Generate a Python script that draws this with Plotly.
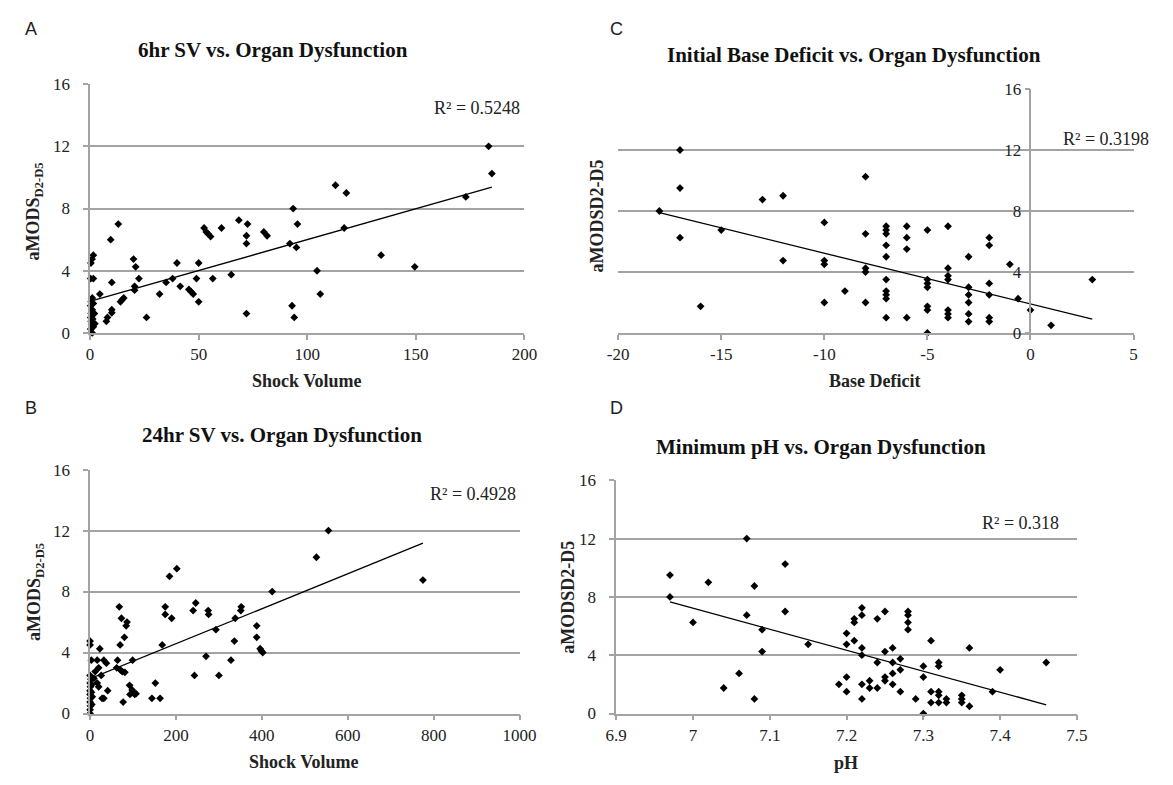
import numpy as np
import plotly.graph_objects as go

W, H = 1173, 785

# ---------------- Panel A: 6hr shock volume ----------------
sv6_x = [183.5, 185, 173, 113, 118, 93.5, 95.5, 95, 92, 117, 134, 149.5, 104.5, 106, 93, 94, 72,
         68.5, 72.5, 72, 72, 80, 81.5, 60.5, 52.5, 53.5, 54.5, 55.5, 65, 56.5, 50, 49, 50,
         45.5, 46.5, 47.5, 40, 41.5, 38, 35, 32, 26, 20, 21, 22.5, 20.5, 20.5, 13, 9.5, 10,
         4.5, 14, 14.8, 15.5, 10, 10, 8, 7.5,
         1.5, 0.9, 0.4, 1.5, 0.3, 1.0, 0.5, 1.5, 0.3, 1.0, 0.5, 2.0, 0.3, 1.2, 0.5, 2.2, 0.8,
         1.5, 0.3, 1.0]
sv6_y = [12, 10.25, 8.75, 9.5, 9.0, 8.0, 7.0, 5.5, 5.75, 6.75, 5.0, 4.25, 4.0, 2.5, 1.75, 1.0, 1.25,
         7.25, 7.0, 6.25, 5.75, 6.5, 6.25, 6.75, 6.75, 6.5, 6.35, 6.2, 3.75, 3.5, 4.5, 3.5, 2.0,
         2.8, 2.65, 2.5, 4.5, 3.0, 3.5, 3.25, 2.5, 1.0, 4.75, 4.25, 3.5, 3.0, 2.75, 7.0, 6.0, 3.25,
         2.5, 2.0, 2.15, 2.25, 1.5, 1.3, 1.0, 0.75,
         5.0, 4.75, 4.5, 3.5, 3.5, 2.25, 2.0, 1.9, 1.75, 1.5, 1.25, 1.25, 1.0, 0.9, 0.75, 0.6, 0.5,
         0.4, 0.25, 0.0]

# ---------------- Panel B: 24hr shock volume ----------------
sv24_x = [555, 527, 775, 424, 202, 185, 246, 240, 275, 276, 352, 351, 338, 293, 388, 388, 396, 399,
          402, 336, 328, 300, 270, 243, 175, 175, 190, 168, 152, 144, 163, 68, 73, 86, 84, 80, 70,
          64, 99, 62, 71, 81, 75, 77, 92, 98, 107, 104, 93, 41, 28, 32, 22.7, 3, 16.6, 32, 38,
          20, 16.6, 20, 9, 0, 0, 26, 12,
          0, 2, 0, 4, 1, 0, 3, 0, 5, 1, 0, 4, 1, 0, 0]
sv24_y = [12, 10.25, 8.75, 8.0, 9.5, 9.0, 7.25, 6.75, 6.75, 6.5, 7.0, 6.75, 6.25, 5.5, 5.75, 5.0, 4.25, 4.1,
          4.0, 4.75, 3.5, 2.5, 3.75, 2.5, 7.0, 6.5, 6.25, 4.5, 2.0, 1.0, 1.0, 7.0, 6.25, 6.0, 5.75, 5.0, 4.5,
          3.5, 3.5, 3.0, 2.85, 2.7, 2.75, 0.75, 1.85, 1.55, 1.3, 1.25, 1.25, 1.5, 1.0, 1.0, 4.25, 3.5, 3.5, 3.5, 3.3,
          3.0, 2.0, 1.75, 2.3, 4.75, 4.5, 2.5, 2.75,
          2.5, 2.25, 2.0, 1.9, 1.75, 1.5, 1.4, 1.25, 1.1, 1.0, 0.75, 0.6, 0.5, 0.25, 0.0]

# ---------------- Panel C: initial base deficit ----------------
bd_x = [-17, -17, -17, -18, -16, -15, -13, -12, -12, -10, -10, -10, -10, -9, -8, -8, -8, -8, -8,
        -7, -7, -7, -7, -7, -7, -7, -7, -7, -7, -6, -6, -6, -6, -5, -5, -5, -5, -5, -5, -5,
        -4, -4, -4, -4, -4, -4, -4, -3, -3, -3, -3, -3, -3, -2, -2, -2, -2, -2, -2,
        -1, -0.6, 0, 1, 3]
bd_y = [12, 9.5, 6.25, 8.0, 1.75, 6.75, 8.75, 9.0, 4.75, 7.25, 4.75, 4.5, 2.0, 2.75, 10.25, 6.5, 4.25, 4.0, 2.0,
        7.0, 6.75, 6.5, 5.75, 5.0, 3.5, 2.75, 2.5, 2.25, 1.0, 7.0, 6.25, 5.5, 1.0, 6.75, 3.5, 3.25, 3.0, 1.75, 1.5, 0.0,
        7.0, 4.25, 3.75, 3.5, 1.5, 1.25, 1.0, 5.0, 3.0, 2.5, 2.0, 1.25, 0.75, 6.25, 5.75, 3.25, 2.5, 1.0, 0.75,
        4.5, 2.25, 1.5, 0.5, 3.5]

# ---------------- Panel D: minimum pH ----------------
ph_x = [7.07, 7.12, 6.97, 6.97, 7.02, 7.08, 7.07, 7.00, 7.12, 7.09, 7.09, 7.15, 7.04, 7.06, 7.08,
        7.19, 7.20, 7.20, 7.20, 7.20, 7.21, 7.21, 7.21, 7.22, 7.22, 7.22, 7.22, 7.22, 7.22,
        7.23, 7.23, 7.24, 7.24, 7.24, 7.25, 7.25, 7.25, 7.25, 7.26, 7.26, 7.26, 7.26,
        7.27, 7.27, 7.27, 7.28, 7.28, 7.28, 7.28, 7.29, 7.30, 7.30, 7.30, 7.31, 7.31, 7.31,
        7.32, 7.32, 7.32, 7.32, 7.32, 7.33, 7.33, 7.35, 7.35, 7.35, 7.36, 7.36, 7.39, 7.40, 7.46]
ph_y = [12, 10.25, 9.5, 8.0, 9.0, 8.75, 6.75, 6.25, 7.0, 5.75, 4.25, 4.75, 1.75, 2.75, 1.0,
        2.0, 5.5, 4.75, 2.5, 1.5, 5.0, 6.5, 6.25, 7.25, 6.75, 4.5, 4.0, 2.0, 1.0,
        2.25, 1.75, 6.5, 3.5, 1.75, 7.0, 4.25, 2.5, 2.25, 4.5, 3.5, 2.75, 2.0,
        3.75, 3.0, 1.5, 7.0, 6.75, 6.25, 5.75, 1.0, 3.25, 2.5, 0.0, 5.0, 1.5, 0.75,
        3.5, 3.25, 1.5, 1.25, 0.75, 1.0, 0.75, 1.25, 1.0, 0.75, 4.5, 0.5, 1.5, 3.0, 3.5]

# ---------------- Linear trendlines (slope, intercept) ----------------
trend_slope = [0.0397, 0.01148, -0.333, -14.39]
trend_intercept = [2.03, 2.28, 1.9, 107.95]

# ---------------- Text / ticks ----------------
panel_letters = ["A", "B", "C", "D"]
titles = ["6hr SV vs. Organ Dysfunction", "24hr SV vs. Organ Dysfunction",
          "Initial Base Deficit vs. Organ Dysfunction", "Minimum pH vs. Organ Dysfunction"]
r2_labels = ["R² = 0.5248", "R² = 0.4928", "R² = 0.3198", "R² = 0.318"]
x_titles = ["Shock Volume", "Shock Volume", "Base Deficit", "pH"]
y_titles = ["aMODS<sub>D2-D5</sub>", "aMODS<sub>D2-D5</sub>", "aMODSD2-D5", "aMODSD2-D5"]
y_ticks = [0, 4, 8, 12, 16]
xA_ticks = [0, 50, 100, 150, 200]
xB_ticks = [0, 200, 400, 600, 800, 1000]
xC_ticks = [-20, -15, -10, -5, 0, 5]
xC_ticktext = ["-20", "-15", "-10", "-5", "0", "5"]
xD_ticks = [6.9, 7.0, 7.1, 7.2, 7.3, 7.4, 7.5]
xD_ticktext = ["6.9", "7", "7.1", "7.2", "7.3", "7.4", "7.5"]

SERIF = "Liberation Serif, Times New Roman, serif"
SANS = "Liberation Sans, Arial, sans-serif"
GRID = "#a3a3a3"


def fx(p):
    return p / W


def fy(p):
    return 1 - p / H


# layout geometry (pixels)
geo = [
    dict(xd=(81, 526), yd=(77, 332), xr=[0, 200], xt=xA_ticks, xtt=[str(v) for v in xA_ticks]),
    dict(xd=(81, 521), yd=(472, 722), xr=[0, 1000], xt=xB_ticks, xtt=[str(v) for v in xB_ticks]),
    dict(xd=(622, 1150), yd=(82, 332), xr=[-20, 5], xt=xC_ticks, xtt=xC_ticktext),
    dict(xd=(620, 1092), yd=(483, 722), xr=[6.9, 7.5], xt=xD_ticks, xtt=xD_ticktext),
]
data = [(sv6_x, sv6_y), (sv24_x, sv24_y), (bd_x, bd_y), (ph_x, ph_y)]

fig = go.Figure()
layout = dict(width=W, height=H, margin=dict(l=0, r=0, t=0, b=0),
              paper_bgcolor="white", plot_bgcolor="white", showlegend=False)
annotations = []

for i, (g, (xs, ys)) in enumerate(zip(geo, data)):
    n = "" if i == 0 else str(i + 1)
    xa, ya = "x" + n, "y" + n
    xs_a = np.array(xs, dtype=float)
    ys_a = np.array(ys, dtype=float)
    fig.add_trace(go.Scatter(x=xs_a, y=ys_a, mode="markers", xaxis=xa, yaxis=ya,
                             marker=dict(symbol="diamond", size=6, color="black"),
                             cliponaxis=False, hoverinfo="x+y"))
    lx = np.array([xs_a.min(), xs_a.max()])
    fig.add_trace(go.Scatter(x=lx, y=trend_slope[i] * lx + trend_intercept[i], mode="lines",
                             xaxis=xa, yaxis=ya, line=dict(color="black", width=1.3), hoverinfo="skip"))

    xdom = [fx(g["xd"][0]), fx(g["xd"][1])]
    ydom = [fy(g["yd"][1]), fy(g["yd"][0])]
    layout["xaxis" + n] = dict(domain=xdom, range=g["xr"], anchor=ya, tickvals=g["xt"], ticktext=g["xtt"],
                               showgrid=False, zeroline=False, showline=True, linecolor=GRID, linewidth=1.5,
                               ticks="outside", ticklen=5, tickcolor=GRID, tickwidth=1.5,
                               tickfont=dict(family=SERIF, size=17, color="#222"))
    ycfg = dict(domain=ydom, range=[0, 16], tickvals=y_ticks, showgrid=True, gridcolor=GRID, gridwidth=1.5,
                zeroline=False, showline=True, linecolor=GRID, linewidth=1.5,
                ticks="outside", ticklen=5, tickcolor=GRID, tickwidth=1.5,
                tickfont=dict(family=SERIF, size=17, color="#222"))
    if i == 2:
        pos = xdom[0] + (xdom[1] - xdom[0]) * (0 - g["xr"][0]) / (g["xr"][1] - g["xr"][0])
        ycfg.update(anchor="free", position=pos)
    else:
        ycfg.update(anchor=xa, ticklabelstandoff=10)
    layout["yaxis" + n] = ycfg

# text placements (pixels)
letter_pos = [(20, 21), (20, 409), (620, 21), (620, 409)]
title_pos = [(268, 42), (278, 437), (864, 47), (830, 449)]
r2_pos = [(523, 101), (519, 497), (1168, 133), (1076, 527)]
xt_pos = [(303, 381), (300, 772), (885, 381), (855, 773)]
yt_pos = [(25, 207), (25, 597), (600, 212), (571, 603)]

for i in range(4):
    annotations.append(dict(text=panel_letters[i], x=fx(letter_pos[i][0]), y=fy(letter_pos[i][1]),
                            xref="paper", yref="paper", showarrow=False, xanchor="center", yanchor="middle",
                            font=dict(family=SANS, size=18, color="#222")))
    annotations.append(dict(text="<b>" + titles[i] + "</b>", x=fx(title_pos[i][0]), y=fy(title_pos[i][1]),
                            xref="paper", yref="paper", showarrow=False, xanchor="center", yanchor="middle",
                            font=dict(family=SERIF, size=21, color="#111")))
    annotations.append(dict(text=r2_labels[i], x=fx(r2_pos[i][0]), y=fy(r2_pos[i][1]),
                            xref="paper", yref="paper", showarrow=False, xanchor="right", yanchor="middle",
                            font=dict(family=SERIF, size=18, color="#222")))
    annotations.append(dict(text="<b>" + x_titles[i] + "</b>", x=fx(xt_pos[i][0]), y=fy(xt_pos[i][1]),
                            xref="paper", yref="paper", showarrow=False, xanchor="center", yanchor="middle",
                            font=dict(family=SERIF, size=18, color="#222")))
    annotations.append(dict(text="<b>" + y_titles[i] + "</b>", x=fx(yt_pos[i][0]), y=fy(yt_pos[i][1]),
                            xref="paper", yref="paper", showarrow=False, xanchor="center", yanchor="middle",
                            textangle=-90, font=dict(family=SERIF, size=18, color="#222")))

layout["annotations"] = annotations
fig.update_layout(**layout)
fig.write_html("out.html")
